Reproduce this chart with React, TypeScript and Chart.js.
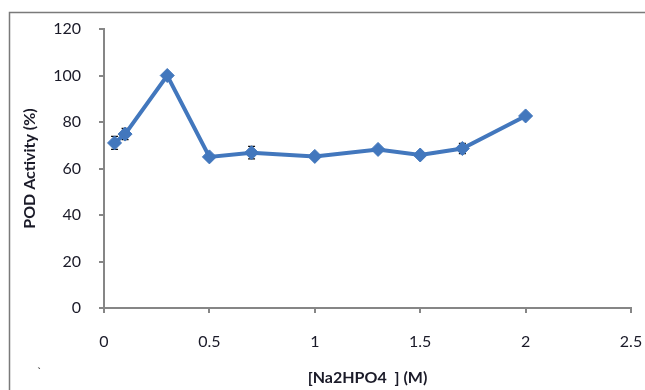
import React, { useEffect, useRef } from "react";
import { Chart, registerables } from "chart.js";

Chart.register(...registerables);

const concentrations = [0.05, 0.1, 0.3, 0.5, 0.7, 1.0, 1.3, 1.5, 1.7, 2.0];
const activity = [71, 74.8, 100, 65, 66.8, 65.2, 68.2, 65.8, 68.6, 82.6];
const errors = [2.8, 2.4, 0.5, 0.5, 2.7, 0.8, 0.8, 0.8, 2.2, 0.5];

const xTickLabels = ["0", "0.5", "1", "1.5", "2", "2.5"];
const yTickLabels = ["0", "20", "40", "60", "80", "100", "120"];

const xTitle = "[Na2HPO4  ] (M)";
const yTitle = "POD Activity (%)";

const LINE_COLOR = "#4277bd";
const AXIS_COLOR = "#868686";
const TEXT_COLOR = "#1a1a28";

export default function App() {
  const ref = useRef<HTMLCanvasElement | null>(null);

  useEffect(() => {
    if (!ref.current) return;

    const framePlugin = {
      id: "frame",
      beforeDraw(chart: any) {
        const ctx = chart.ctx;
        ctx.save();
        ctx.fillStyle = "#ffffff";
        ctx.fillRect(0, 0, chart.width, chart.height);
        ctx.strokeStyle = "#7a7a7a";
        ctx.lineWidth = 1.5;
        ctx.beginPath();
        ctx.moveTo(9.5, chart.height);
        ctx.lineTo(9.5, 12.5);
        ctx.lineTo(chart.width, 12.5);
        ctx.stroke();
        ctx.fillStyle = "#222";
        ctx.font = "12px Lato";
        ctx.fillText("`", 37, 376);
        ctx.restore();
      },
    };

    const errorBarPlugin = {
      id: "errorBars",
      beforeDatasetsDraw(chart: any) {
        const ctx = chart.ctx;
        const xs = chart.scales.x;
        const ys = chart.scales.y;
        ctx.save();
        ctx.strokeStyle = "#111";
        ctx.lineWidth = 1.3;
        for (let i = 0; i < concentrations.length; i++) {
          const px = xs.getPixelForValue(concentrations[i]);
          const top = ys.getPixelForValue(activity[i] + errors[i]);
          const bot = ys.getPixelForValue(activity[i] - errors[i]);
          ctx.beginPath();
          ctx.moveTo(px, top);
          ctx.lineTo(px, bot);
          ctx.moveTo(px - 3.5, top);
          ctx.lineTo(px + 3.5, top);
          ctx.moveTo(px - 3.5, bot);
          ctx.lineTo(px + 3.5, bot);
          ctx.stroke();
        }
        ctx.restore();
      },
    };

    const chart = new Chart(ref.current, {
      type: "line",
      data: {
        datasets: [
          {
            data: concentrations.map((x, i) => ({ x, y: activity[i] })),
            borderColor: LINE_COLOR,
            backgroundColor: LINE_COLOR,
            borderWidth: 4,
            tension: 0,
            pointStyle: "rectRot",
            pointRadius: 7,
            pointBorderWidth: 1,
            pointBackgroundColor: LINE_COLOR,
            pointBorderColor: LINE_COLOR,
          },
        ],
      },
      options: {
        responsive: false,
        animation: false,
        layout: { padding: { left: 9, top: 29, right: 14, bottom: 0 } },
        plugins: {
          legend: { display: false },
          tooltip: { enabled: false },
        },
        scales: {
          x: {
            type: "linear",
            min: 0,
            max: 2.5,
            ticks: {
              stepSize: 0.5,
              padding: 19,
              color: TEXT_COLOR,
              font: { family: "Lato", size: 16 },
              callback: (_v: any, i: number) => xTickLabels[i],
            },
            grid: {
              drawOnChartArea: false,
              drawTicks: true,
              tickLength: 5,
              color: AXIS_COLOR,
              lineWidth: 2,
            },
            border: { color: AXIS_COLOR, width: 2 },
            title: {
              display: true,
              text: xTitle,
              color: TEXT_COLOR,
              font: { family: "Lato", size: 16, weight: "bold" },
              padding: { top: 0, bottom: 3 },
            },
            afterFit(scale: any) {
              scale.height = 82;
              scale.paddingLeft = 0;
              scale.paddingRight = 0;
            },
          },
          y: {
            type: "linear",
            min: 0,
            max: 120,
            ticks: {
              stepSize: 20,
              padding: 18,
              color: TEXT_COLOR,
              font: { family: "Lato", size: 16 },
              callback: (_v: any, i: number) => yTickLabels[i],
            },
            grid: {
              drawOnChartArea: false,
              drawTicks: true,
              tickLength: 5,
              color: AXIS_COLOR,
              lineWidth: 2,
            },
            border: { color: AXIS_COLOR, width: 2 },
            title: {
              display: true,
              text: yTitle,
              color: TEXT_COLOR,
              font: { family: "Lato", size: 16, weight: "bold" },
              padding: { top: 11, bottom: 0 },
            },
            afterFit(scale: any) {
              scale.width = 95;
              scale.paddingTop = 0;
              scale.paddingBottom = 0;
            },
          },
        },
      },
      plugins: [framePlugin, errorBarPlugin],
    } as any);

    return () => chart.destroy();
  }, []);

  return (
    <div style={{ position: "absolute", left: 0, top: 0, width: 645, height: 390 }}>
      <canvas ref={ref} width={645} height={390} />
    </div>
  );
}
